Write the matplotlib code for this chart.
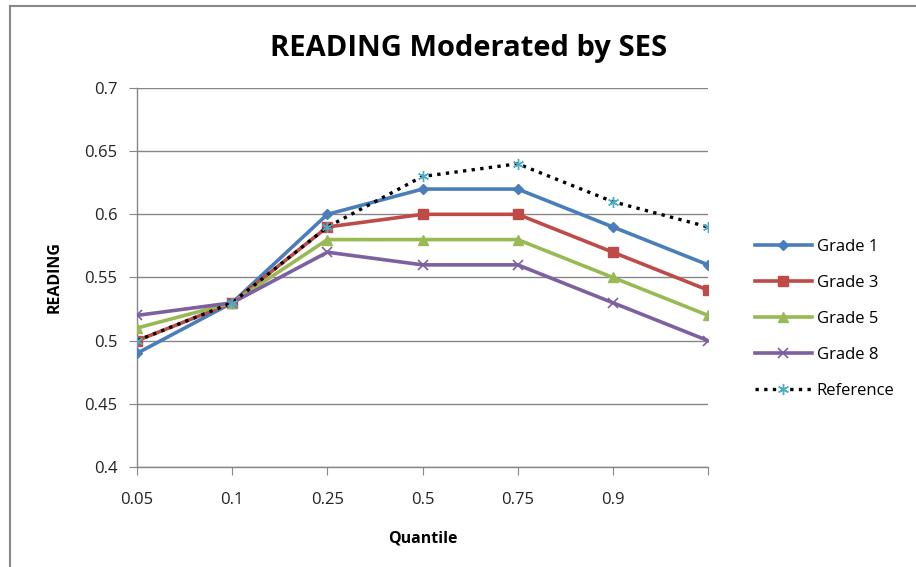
import matplotlib
matplotlib.use("Agg")
import matplotlib.pyplot as plt
from matplotlib.lines import Line2D

# Quantile categories (last category has no label on the axis)
quantiles = ["0.05", "0.1", "0.25", "0.5", "0.75", "0.9", ""]

grade1 = [0.49, 0.53, 0.60, 0.62, 0.62, 0.59, 0.56]
grade3 = [0.50, 0.53, 0.59, 0.60, 0.60, 0.57, 0.54]
grade5 = [0.51, 0.53, 0.58, 0.58, 0.58, 0.55, 0.52]
grade8 = [0.52, 0.53, 0.57, 0.56, 0.56, 0.53, 0.50]
reference = [0.50, 0.53, 0.59, 0.63, 0.64, 0.61, 0.59]

plt.rcParams["font.family"] = ["Open Sans", "DejaVu Sans"]

fig = plt.figure(figsize=(9.16, 5.67), dpi=100)
ax = fig.add_axes([0.1496, 0.1764, 0.6234, 0.6684])

x = list(range(len(quantiles)))
grid_c = "#868686"

ax.plot(x, grade1, color="#4A7EBB", lw=2.6, marker="D", ms=5, label="Grade 1", zorder=3)
ax.plot(x, grade3, color="#BE4B48", lw=2.6, marker="s", ms=7, label="Grade 3", zorder=3)
ax.plot(x, grade5, color="#98B954", lw=2.6, marker="^", ms=7, label="Grade 5", zorder=3)
ax.plot(x, grade8, color="#7D60A0", lw=2.6, marker="x", ms=7, mew=1.2, label="Grade 8", zorder=3)
ax.plot(x, reference, color="black", lw=2.4, ls=(0, (1, 1.6)), marker=(6, 2, 0), ms=8,
        mec="#4BACC6", mew=1.0, label="Reference", zorder=4)

ax.set_xlim(0, 6)
ax.set_ylim(0.4, 0.7)
ax.set_xticks(x)
ax.set_xticklabels(quantiles)
ax.set_yticks([0.4, 0.45, 0.5, 0.55, 0.6, 0.65, 0.7])
ax.set_yticklabels(["0.4", "0.45", "0.5", "0.55", "0.6", "0.65", "0.7"])
ax.yaxis.grid(True, color=grid_c, lw=1)
ax.set_axisbelow(True)

for side in ["top", "right"]:
    ax.spines[side].set_visible(False)
for side in ["left", "bottom"]:
    ax.spines[side].set_color(grid_c)
    ax.spines[side].set_linewidth(1)
ax.tick_params(axis="both", direction="out", length=6, color=grid_c, labelsize=12,
               labelcolor="#222222")
ax.tick_params(axis="x", pad=12)
ax.tick_params(axis="y", pad=8)

fig.text(0.512, 0.915, "READING Moderated by SES", fontsize=21, fontweight="bold",
         ha="center", va="center")
ax.set_xlabel("Quantile", fontsize=11.5, fontweight="bold", labelpad=16)
ax.set_ylabel("READING", fontsize=11.5, fontweight="bold", labelpad=16)

leg = ax.legend(loc="center left", bbox_to_anchor=(1.056, 0.39), frameon=False,
                fontsize=12, handlelength=3.4, labelspacing=1.2, handletextpad=0.3)

# outer chart border
fig.add_artist(Line2D([0.0105, 0.0105], [0, 0.9894], color="#888888", lw=1.5))
fig.add_artist(Line2D([0.0105, 1], [0.9894, 0.9894], color="#888888", lw=1.5))

fig.savefig("out.png", dpi=100)
